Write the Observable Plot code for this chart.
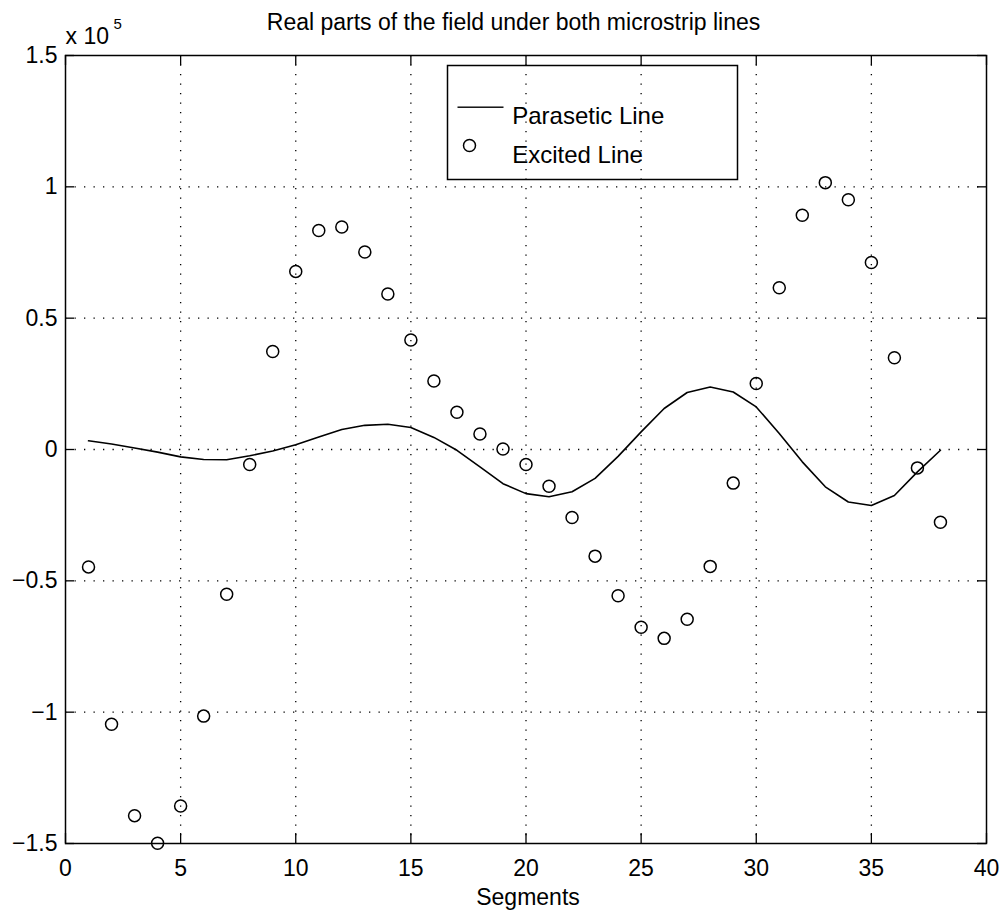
<!DOCTYPE html>
<html>
<head>
<meta charset="utf-8">
<script src="https://cdn.jsdelivr.net/npm/d3@7"></script>
<script src="https://cdn.jsdelivr.net/npm/@observablehq/plot@0.6"></script>
<style>
  html, body { margin: 0; padding: 0; background: #fff; }
  #chart { width: 1005px; height: 916px; }
</style>
</head>
<body>
<div id="chart"></div>
<script>
// ---- data (values in units of 10^5) ----
const segments = [1,2,3,4,5,6,7,8,9,10,11,12,13,14,15,16,17,18,19,20,21,22,23,24,25,26,27,28,29,30,31,32,33,34,35,36,37,38];
const excitedLine = [-0.447,-1.046,-1.394,-1.499,-1.357,-1.015,-0.551,-0.057,0.373,0.678,0.834,0.847,0.752,0.592,0.417,0.261,0.142,0.059,0.002,-0.057,-0.140,-0.259,-0.406,-0.557,-0.677,-0.719,-0.646,-0.445,-0.128,0.251,0.616,0.892,1.016,0.951,0.712,0.349,-0.070,-0.277];
const parasiticLine = [0.033,0.021,0.006,-0.010,-0.028,-0.038,-0.039,-0.024,-0.006,0.018,0.048,0.076,0.092,0.096,0.084,0.046,-0.003,-0.066,-0.130,-0.168,-0.180,-0.161,-0.110,-0.026,0.067,0.156,0.217,0.238,0.219,0.162,0.061,-0.047,-0.142,-0.200,-0.213,-0.175,-0.085,-0.003];
const xTicks = [0,5,10,15,20,25,30,35,40];
const yTicks = [-1.5,-1,-0.5,0,0.5,1,1.5];
const xDomain = [0, 40];
const yDomain = [-1.5, 1.5];
const titleText = "Real parts of the field under both microstrip lines";
const xLabel = "Segments";
const legendLabels = ["Parasetic Line", "Excited Line"];

const excitedData = segments.map((s, i) => ({segment: s, value: excitedLine[i]}));
const parasiticData = segments.map((s, i) => ({segment: s, value: parasiticLine[i]}));

const font = "'Liberation Sans', Arial, Helvetica, sans-serif";
const fs = 23;

const chart = Plot.plot({
  width: 1005,
  height: 916,
  marginLeft: 65,
  marginRight: 19,
  marginTop: 55,
  marginBottom: 73,
  style: {fontFamily: font, fontSize: fs + "px", color: "black", background: "white"},
  x: {domain: xDomain},
  y: {domain: yDomain},
  marks: [
    // dotted grid
    Plot.gridX(xTicks.slice(1, -1), {stroke: "black", strokeOpacity: 1, strokeWidth: 1.3, strokeDasharray: "1.3,8.2"}),
    Plot.gridY(yTicks.slice(1, -1), {stroke: "black", strokeOpacity: 1, strokeWidth: 1.3, strokeDasharray: "1.3,8.2"}),
    // axes labels (no outward ticks)
    Plot.axisX(xTicks, {tickSize: 0, tickPadding: 16, tickFormat: d3.format(""), label: null, fontSize: fs}),
    Plot.axisY(yTicks, {tickSize: 0, tickPadding: 8, tickFormat: d3.format(""), label: null, fontSize: fs}),
    // inward ticks
    Plot.ruleX(xTicks, {x: d => d, y1: yDomain[0], y2: yDomain[0], insetTop: -10, stroke: "black", strokeWidth: 1.3}),
    Plot.ruleX(xTicks, {x: d => d, y1: yDomain[1], y2: yDomain[1], insetBottom: -10, stroke: "black", strokeWidth: 1.3}),
    Plot.ruleY(yTicks, {y: d => d, x1: xDomain[0], x2: xDomain[0], insetRight: -9, stroke: "black", strokeWidth: 1.3}),
    Plot.ruleY(yTicks, {y: d => d, x1: xDomain[1], x2: xDomain[1], insetLeft: -9, stroke: "black", strokeWidth: 1.3}),
    // frame
    Plot.frame({stroke: "black", strokeWidth: 1.5}),
    // data
    Plot.line(parasiticData, {x: "segment", y: "value", stroke: "black", strokeWidth: 1.6}),
    Plot.dot(excitedData, {x: "segment", y: "value", r: 6, stroke: "black", strokeWidth: 1.5, fill: "none"}),
    // legend
    Plot.frame({stroke: "black", strokeWidth: 1.5, insetLeft: 382, insetRight: 249, insetTop: 10, insetBottom: 664}),
    Plot.frame({fill: "black", stroke: null, insetLeft: 392, insetRight: 483, insetTop: 51, insetBottom: 735.6}),
    Plot.dot([legendLabels[1]], {frameAnchor: "top-left", dx: 404, dy: 90, r: 6, stroke: "black", strokeWidth: 1.5, fill: "none"}),
    Plot.text([legendLabels[0]], {text: d => d, frameAnchor: "top-left", dx: 446.7, dy: 51.7, textAnchor: "start", fontSize: 24, fill: "black"}),
    Plot.text([legendLabels[1]], {text: d => d, frameAnchor: "top-left", dx: 446.7, dy: 90, textAnchor: "start", fontSize: 24, fill: "black"}),
    // title
    Plot.text([titleText], {text: d => d, frameAnchor: "top", dx: -12.5, dy: -26, lineAnchor: "bottom", fontSize: fs, fill: "black"}),
    // x label
    Plot.text([xLabel], {text: d => d, frameAnchor: "bottom", dx: 2, dy: 61.7, lineAnchor: "bottom", fontSize: fs, fill: "black"}),
    // exponent
    Plot.text(["x 10"], {text: d => d, frameAnchor: "top-left", dx: 0, dy: -12, lineAnchor: "bottom", textAnchor: "start", fontSize: fs, fill: "black"}),
    Plot.text(["5"], {text: d => d, frameAnchor: "top-left", dx: 48, dy: -27, lineAnchor: "bottom", textAnchor: "start", fontSize: 15, fill: "black"})
  ]
});
document.getElementById("chart").appendChild(chart);
</script>
</body>
</html>
